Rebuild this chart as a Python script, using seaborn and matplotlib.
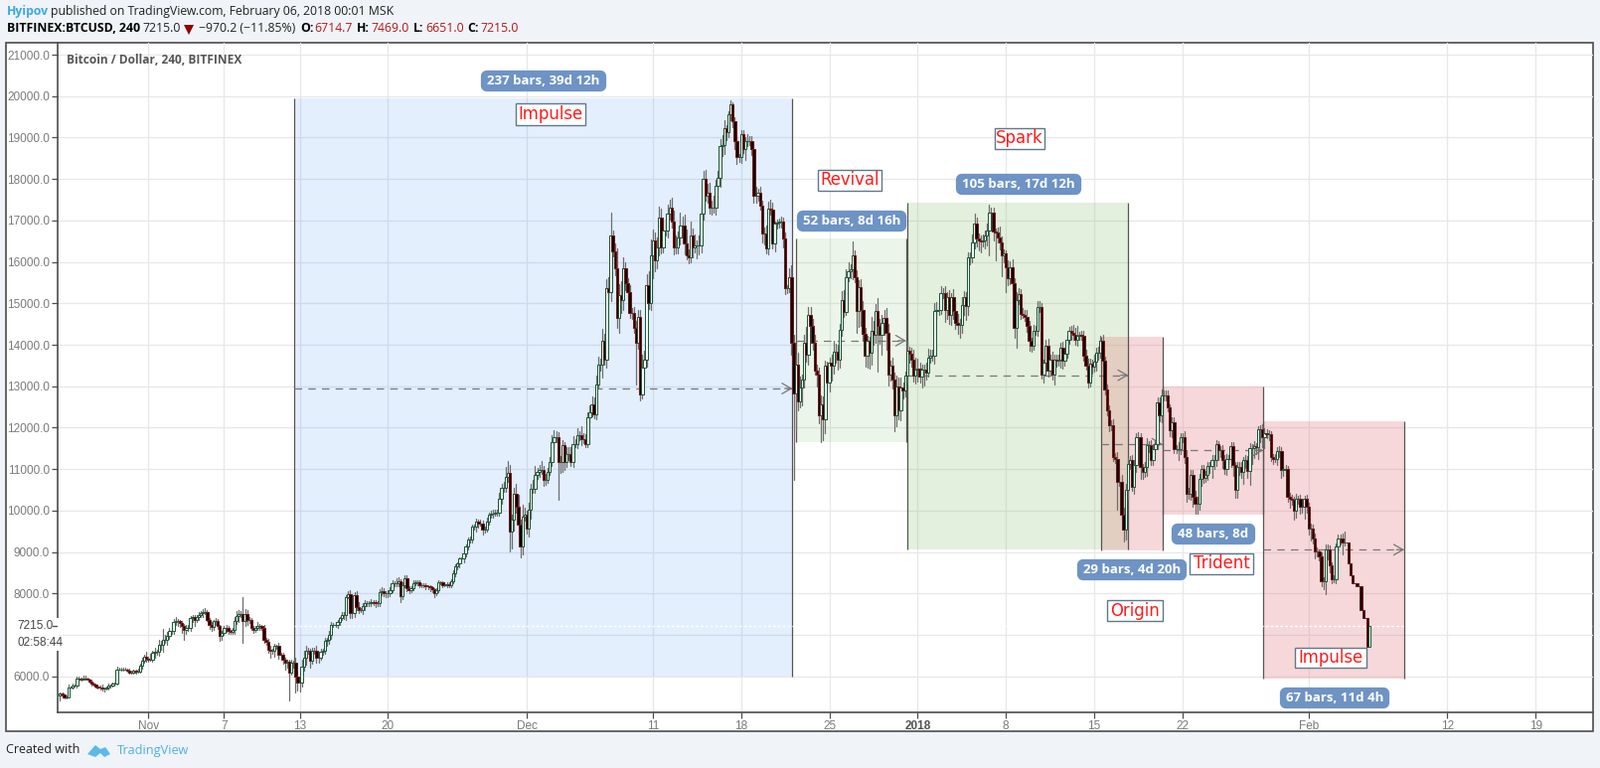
import numpy as np
import pandas as pd
import matplotlib
matplotlib.use("Agg")
import matplotlib.pyplot as plt
from matplotlib.patches import Rectangle, FancyBboxPatch, Polygon
import seaborn as sns

# ---- data: 4h candles, one row per day, starting 25 Oct 2017 ----
first_open = 5540
closes = [
5580,5560,5500,5500,5740,5740, 5780,5780,5950,5950,5930,5950, 5940,5930,5880,5820,5800,5760,
5740,5730,5700,5700,5720,5780, 5780,5820,5830,6170,6170,6170, 6170,6170,6130,6100,6100,6130,
6110,6120,6250,6370,6470,6420, 6410,6410,6570,6590,6590,6760, 6770,6890,6890,6970,7090,7090,
7310,7330,7330,7290,7210,7130, 7170,7170,7400,7420,7360,7420, 7480,7520,7560,7560,7370,7250,
7200,7330,7330,7210,6970,7050, 7170,7170,7100,7080,7110,7330, 7450,7510,7510,7330,7510,7370,
7370,7170,7130,7170,7210,7210, 7170,6890,6830,6650,6610,6610, 6730,6730,6530,6510,6400,6330,
6350,6100,6330,6330,6000,5860, 5860,6240,6450,6610,6610,6370, 6610,6610,6450,6450,6600,6610,
6850,6870,7010,7250,7250,7250, 7300,7400,7480,7480,7920,7980, 7520,7520,7960,7680,7600,7600,
7700,7760,7760,7760,7800,7780, 7760,7760,8040,8060,8000,8000, 8010,8090,8240,8240,8250,8300,
7930,8210,8370,8130,8090,8130, 8250,8270,8270,8210,8210,8200, 8170,8170,8150,8100,8010,8090,
8270,8270,8210,8210,8230,8210, 8290,8490,8650,8720,8850,8850, 8970,9130,9290,9300,9610,9610,
9730,9690,9690,9530,9550,9730, 9890,9930,9930,9950,9950,10290, 10550,10550,10810,10900,9490,9770,
10400,10090,9650,9130,9850,9890, 9570,10010,10530,10530,10850,10930, 10970,10970,10730,10750,10930,11170,
11650,11770,11770,11170,11170,11570, 11170,11370,11370,11170,11610,11610, 11830,11830,11730,11730,11610,12250,
12370,12570,12330,13050,13530,13530, 14100,13650,15360,15280,16630,16250, 15850,14650,15200,15080,15850,15490,
15280,14770,14770,14420,14050,14660, 12800,13450,13650,15440,15000,16160, 16520,16040,16340,17060,16360,16760,
16760,17160,17320,16980,16340,16340, 16600,16880,16880,16440,16160,16120, 16640,16340,16400,16400,16400,17160,
18000,17600,17680,17320,17320,17320, 17840,18020,18800,18820,19220,19120, 19560,19800,19400,18920,18520,18520,
19080,18720,18920,18920,18920,18720, 17600,17600,17680,17360,16680,16680, 16320,17280,17250,16440,16920,16960,
16980,16980,16560,15360,15360,15640, 14050,12820,13510,12630,12980,13170, 14050,13770,14710,14450,14050,13370,
13290,12290,12570,12210,13490,13090, 13570,13490,13830,13830,13640,14370, 15080,14790,15640,15780,15830,16160,
15640,14820,15380,14850,14260,13730, 14090,13810,14330,14250,14820,14450, 14250,14530,14650,14290,13290,13490,
13170,12290,13000,12410,12970,12890, 13250,13860,13780,13650,13250,13410, 13430,13230,13390,13390,13330,13700,
13730,13730,14820,14850,14850,15240, 15240,14850,15160,14720,15160,14810, 14530,14470,14470,14960,15160,14930,
16100,16100,16460,16920,16560,16520, 16500,16520,16640,16760,17180,17190, 16740,16720,16600,16480,16160,16200,
15880,15600,15880,15480,14400,15080, 15220,14750,14720,14680,14450,14090, 13970,14340,14340,14900,14900,13290,
13570,13970,13380,13650,13270,13630, 13620,13630,13940,13610,13790,14130, 14340,14300,14250,14110,14220,14230,
14220,13730,13490,13090,13540,13470, 13600,13810,13820,14090,13620,12930, 12410,12050,12050,11290,11250,10690,
10690,9890,9530,10490,11130,11220, 10570,11100,11770,11770,11050,10930, 11050,11590,11590,11210,11490,11600,
12610,12310,12770,12770,12770,12490, 11930,12130,11490,11490,11490,11780, 11780,11290,10410,10410,10850,10330,
10170,10170,10770,11010,10800,10850, 11070,11070,11210,11210,11610,11450, 11450,11210,11010,11250,11250,11550,
11100,10490,11050,11050,10930,11210, 11210,10950,11510,11510,11550,11530, 11970,11970,11770,11860,11850,11850,
11290,11250,11250,11430,11430,10970, 11010,11010,10330,10290,10250,9990, 10290,10290,10090,10100,10290,10090,
9570,9570,9330,9010,9010,8890, 8290,8290,9070,9070,8690,8350, 8350,9130,9330,9330,9230,9230,
9230,8730,8450,8250,8250,8170, 8170,7610,7410,7400,6714.7,7215.0,
]
# four days per line
upper_wicks = [
30,20,10,40,60,20, 50,30,40,50,30,70, 60,40,20,30,20,30, 20,30,60,30,40,50,
30,40,30,60,50,40, 40,30,20,50,30,20, 40,60,50,70,60,130, 60,130,40,100,60,110,
90,260,100,100,80,100, 70,90,60,30,40,60, 60,80,50,70,60,60, 70,50,60,90,40,30,
50,40,80,60,30,50, 40,70,40,30,60,110, 130,90,60,410,120,80, 60,30,40,50,90,60,
40,60,50,70,90,50, 60,40,90,50,70,60, 60,50,70,50,120,70, 70,150,170,130,70,60,
70,90,120,60,60,50, 80,60,90,70,40,60, 60,40,70,80,50,70, 90,60,60,90,100,50,
60,70,60,50,70,40, 60,50,70,100,70,50, 60,70,90,60,110,80, 50,70,60,60,40,50,
70,60,50,40,40,30, 40,30,40,30,30,30, 50,30,30,60,50,30, 60,70,50,40,30,30,
80,50,60,70,60,50, 70,60,80,60,60,90, 50,70,90,70,60,150, 100,150,250,300,200,120,
160,250,300,130,300,170, 100,180,120,200,220,100, 120,220,100,130,90,110, 160,170,150,130,140,120,
90,170,150,160,180,110, 150,90,200,130,120,110, 160,180,150,210,180,130, 280,170,220,260,560,130,
190,480,260,340,260,140, 120,160,110,130,150,170, 190,300,200,260,340,390, 260,180,240,270,230,230,
280,210,180,240,260,300, 140,300,220,260,330,150, 340,170,260,110,240,220, 190,220,200,240,150,270,
140,180,170,230,200,80, 70,100,60,90,110,90, 90,110,80,170,110,120, 150,220,90,130,110,150,
200,170,220,170,60,70, 60,120,80,140,90,200, 270,190,240,310,260,100, 180,380,190,200,170,180,
160,170,200,180,130,100, 130,190,260,190,170,130, 210,240,180,200,120,340, 120,170,180,200,210,150,
130,110,350,240,170,310, 170,200,180,240,220,130, 200,170,250,200,240,110, 110,240,90,160,240,270,
240,130,140,120,180,200, 160,150,180,190,180,170, 130,170,110,170,90,180, 200,220,160,180,140,110,
120,140,190,250,150,130, 110,150,120,160,190,130, 120,70,110,260,140,110, 80,150,130,190,120,180,
150,120,140,130,150,120, 90,130,120,150,150,110, 60,150,180,120,190,130, 140,120,110,130,110,100,
90,120,180,160,230,90, 110,120,160,170,130,100, 150,110,130,120,140,90, 100,130,130,160,90,150,
150,160,170,160,130,100, 120,130,100,110,90,80, 130,160,90,110,120,100, 110,120,140,130,120,130,
70,110,130,100,170,90, 90,140,180,150,120,130, 150,170,120,90,80,110, 100,110,130,120,90,70,
110,120,140,110,100,90, 100,80,130,120,110,90, 120,100,110,90,130,80, 70,100,120,130,110,90,
60,80,110,100,130,90, 70,90,60,90,100,90, 110,70,80,90,70,90, 100,120,90,110,100,60,
100,90,120,110,80,60, 90,70,90,80,120,254,
]
lower_wicks = [
130,60,40,30,20,20, 30,20,40,30,30,20, 30,20,30,40,20,30, 30,40,50,60,30,30,
40,30,40,20,20,30, 30,20,20,30,40,30, 40,30,30,70,30,70, 60,40,60,110,60,100,
130,170,90,140,70,60, 70,60,110,90,160,240, 110,80,70,80,150,60, 70,50,80,60,40,110,
100,70,90,60,120,90, 60,90,70,50,60,80, 60,130,70,520,110,130, 80,60,90,70,60,80,
50,80,70,90,160,60, 130,70,110,60,90,180, 110,680,60,130,400,200, 220,110,100,180,70,170,
60,70,130,110,60,90, 60,120,90,100,70,60, 80,70,50,90,110,40, 110,120,80,90,80,60,
100,90,70,70,60,70, 80,70,60,90,70,100, 90,70,60,70,60,70, 130,60,60,70,90,60,
60,50,60,70,50,60, 70,60,90,60,90,60, 60,50,60,40,50,50, 60,50,70,60,80,60,
90,70,60,50,70,60, 110,90,60,100,70,60, 70,60,90,60,70,80, 120,90,100,120,480,400,
260,130,240,260,180,90, 130,190,210,110,100,80, 110,90,130,120,70,80, 100,130,110,920,260,250,
190,110,140,100,120,70, 100,120,150,110,80,90, 120,90,100,120,70,150, 330,130,200,170,230,120,
180,250,360,310,230,160, 170,120,150,130,1000,140, 130,100,360,180,140,150, 560,260,190,180,160,130,
120,170,140,160,150,130, 130,180,210,260,100,150, 120,240,110,320,210,170, 150,120,170,160,190,130,
170,130,210,250,220,180, 100,130,150,190,160,100, 120,90,260,120,110,150, 170,180,120,110,220,260,
120,140,100,120,180,110, 130,160,200,140,110,90, 300,2080,880,200,130,450, 200,170,260,210,180,100,
300,180,640,500,340,180, 220,350,190,270,240,180, 160,130,80,100,170,240, 120,520,380,390,160,250,
270,380,300,240,200,1100, 220,500,300,400,280,150, 220,380,260,200,230,190, 130,160,200,170,140,190,
300,150,260,370,160,100, 130,110,180,210,140,100, 110,300,230,220,250,180, 140,200,300,170,240,330,
220,160,100,130,180,240, 280,120,190,240,590,200, 210,680,120,180,500,160, 610,170,130,160,220,480,
90,130,70,100,140,230, 130,90,110,130,100,110, 200,130,150,100,120,240, 140,130,170,180,120,90,
110,170,130,120,130,100, 110,120,80,130,90,160, 110,220,180,130,100,120, 100,130,120,90,110,680,
90,100,280,240,200,130, 100,160,170,340,280,170, 120,210,170,110,120,130, 120,150,180,110,100,90,
130,170,110,100,260,130, 120,150,200,130,160,240, 240,250,150,180,120,100, 100,170,290,210,130,240,
150,180,130,160,110,190, 260,180,170,200,140,280, 190,170,330,380,250,160, 280,320,240,270,110,140,
100,130,90,160,150,170, 130,100,110,210,120,200, 150,120,170,130,300,140, 160,300,120,160,120,90,
120,180,300,250,190,100, 90,100,140,160,290,64,
]
start_day = -7
bars_per_day = 6

y_ticks = list(range(6000, 22000, 1000))
y_hidden = [7000]
x_ticks = [0, 6, 12, 19, 30, 40, 47, 54, 61, 68, 75, 82, 92, 103, 110]
x_labels = ["Nov", "7", "13", "20", "Dec", "11", "18", "25", "2018", "8", "15", "22", "Feb", "12", "19"]

box_names = ["Impulse", "Revival", "Spark", "Origin", "Trident", "Impulse"]
box_left = [11.59, 51.38, 60.2, 75.58, 80.4, 88.4]
box_right = [51.06, 60.08, 77.7, 80.4, 88.4, 99.57]
box_top = [19940, 16565, 17440, 14185, 13000, 12160]
box_bottom = [5990, 11660, 9070, 9040, 9895, 5940]
box_mid = [12945, 14100, 13265, 11610, 11450, 9055]
last_price = 7215.0

BOX_STYLE = [((0.32, 0.61, 0.96), .16), ((0.45, 0.72, 0.35), .13), ((0.45, 0.72, 0.35), .20),
             ((0.90, 0.53, 0.55), .32), ((0.90, 0.53, 0.55), .32), ((0.90, 0.53, 0.55), .32)]

W, H = 1610, 773
BG = "#f0f3f7"
FRAME = "#4d4d4d"
sns.set_theme(style="white", rc={"font.family": "Liberation Sans", "axes.unicode_minus": False})

closes = np.array(closes, dtype=float)
opens = np.r_[first_open, closes[:-1]]
n = len(closes)
days = start_day + np.arange(n) / bars_per_day
upper = np.zeros(n); upper[:min(n, len(upper_wicks))] = upper_wicks[:n]
lower = np.zeros(n); lower[:min(n, len(lower_wicks))] = lower_wicks[:n]
highs = np.maximum(opens, closes) + upper
lows = np.minimum(opens, closes) - lower

fig = plt.figure(figsize=(W / 100, H / 100), dpi=100, facecolor=BG)

def px(x, y):
    return x / W, 1 - y / H

# outer frame
fig.add_artist(Rectangle(px(6, 736), 1597 / W, 693 / H, transform=fig.transFigure,
                         facecolor="white", edgecolor=FRAME, lw=1.2, zorder=0))

ax = fig.add_axes([57.5 / W, 1 - 717 / H, (1603 - 57.5) / W, (717 - 43) / H], facecolor="none")
ax.set_xlim(-7.23, 114.55)
ax.set_ylim(5130, 21289)

ax.set_yticks(y_ticks)
ax.set_yticklabels(["" if v in y_hidden else f"{v:.1f}" for v in y_ticks])
ax.set_xticks(x_ticks)
ax.set_xticklabels(x_labels)
ax.tick_params(axis="both", length=4, width=0.9, color=FRAME, labelsize=8.5, labelcolor="#7a7a7a", bottom=True, left=True)
ax.tick_params(axis="x", pad=1.5)
ax.tick_params(axis="y", pad=1.4)
ax.grid(True, color="#e8e8e8", lw=0.95, zorder=0)
ax.set_axisbelow(True)
for lab in ax.get_xticklabels():
    if lab.get_text() == "2018":
        lab.set_fontweight("bold")
        lab.set_color("#555555")
for s in ["top", "right"]:
    ax.spines[s].set_visible(False)
for s in ["left", "bottom"]:
    ax.spines[s].set_color(FRAME)
    ax.spines[s].set_linewidth(1.2)

# measured boxes
for i in range(len(box_names)):
    col, alpha = BOX_STYLE[i]
    ax.add_patch(Rectangle((box_left[i], box_bottom[i]), box_right[i] - box_left[i], box_top[i] - box_bottom[i],
                           facecolor=col, edgecolor="none", alpha=alpha, zorder=1))
    ax.vlines([box_left[i], box_right[i]], box_bottom[i], box_top[i], color="#555555", lw=0.9, zorder=2)
    ax.hlines(box_mid[i], box_left[i], box_right[i], color="#777777", lw=0.9, linestyles=[(0, (6, 5))], zorder=2)
    ax.annotate("", xy=(box_right[i], box_mid[i]), xytext=(box_right[i] - 0.6, box_mid[i]),
                arrowprops=dict(arrowstyle="->,head_length=0.55,head_width=0.32", color="#777777", lw=0.9,
                                shrinkA=0, shrinkB=0, mutation_scale=12), zorder=2)
ax.axhline(last_price, color="white", lw=1, ls=(0, (2, 1.5)), zorder=3)

# wicks through seaborn
wick_df = pd.DataFrame({
    "day": np.repeat(days, 2),
    "price": np.column_stack([lows, highs]).ravel(),
    "bar": np.repeat(np.arange(n), 2),
})
sns.lineplot(data=wick_df, x="day", y="price", units="bar", estimator=None, sort=False,
             color="#6e6e6e", lw=0.9, ax=ax, legend=False, zorder=4)
ax.set_xlabel("")
ax.set_ylabel("")
ax.set_xlim(-7.23, 114.55)
ax.set_ylim(5130, 21289)

# candle bodies, drawn bar by bar so later ones sit on top
up = closes >= opens
ax.bar(days, np.abs(closes - opens), bottom=np.minimum(opens, closes), width=0.19,
       color=["white" if u else "black" for u in up],
       edgecolor=["#1d5a3a" if u else "#7a1414" for u in up], lw=0.75, zorder=5)

# --- page text ---
HF = "Open Sans"
def T(x, y, s, size=9, color="black", weight="normal", ha="left", family=HF, z=10):
    return fig.text(x / W, 1 - y / H, s, fontsize=size, color=color, fontweight=weight, ha=ha, va="center",
                    family=family, zorder=z)

T(7, 12, "Hyipov", 8.8, "#3aa9e0", "bold")
T(51, 12, "published on TradingView.com, February 06, 2018 00:01 MSK", 8.8, "#222222")
T(7, 29, "BITFINEX:BTCUSD, 240", 8.8, "black", "bold")
T(143, 29, "7215.0", 8.8, "#222222")
fig.add_artist(Polygon([px(185, 25), px(195, 25), px(190, 35)], closed=True, facecolor="#8b0000", edgecolor="none",
                       transform=fig.transFigure, zorder=10))
T(200, 29, "\u2212970.2 (\u221211.85%)", 8.8, "#222222")
red = "#b01818"
for xl, l, xv, v in [(302, "O:", 316, "6714.7"), (359, "H:", 373, "7469.0"), (416, "L:", 428, "6651.0"), (470, "C:", 483, "7215.0")]:
    T(xl, 29, l, 8.8, "black", "bold")
    T(xv, 29, v, 8.8, red)
T(67, 61, "Bitcoin / Dollar, 240, BITFINEX", 8.6, "#555555", "bold")

# last price tag on the axis
fig.add_artist(Rectangle(px(17, 655), 42 / W, 33 / H, transform=fig.transFigure, facecolor="white", edgecolor="none", zorder=6))
T(17, 630, "7215.0", 8.5, "#444444", family="Liberation Sans")
T(17, 647, "02:58:44", 8.5, "#444444", family="Liberation Sans")
fig.add_artist(plt.Line2D([53 / W, 57 / W], [1 - 630 / H, 1 - 630 / H], color=FRAME, lw=1, zorder=7))

# blue measure tags
def tag(x0, x1, y0, y1, s):
    fig.add_artist(FancyBboxPatch(px(x0 + 3, y1 - 3), (x1 - x0 - 6) / W, (y1 - y0 - 6) / H, transform=fig.transFigure,
                                  boxstyle="round,pad=0,rounding_size=0.002", mutation_aspect=2.08,
                                  facecolor="#6e93c5", edgecolor="#6e93c5", lw=4.5, zorder=8))
    T((x0 + x1) / 2, (y0 + y1) / 2, s, 9.5, "white", "bold", ha="center")

tag(484, 610, 71, 92, "237 bars, 39d 12h")
tag(802, 912, 212, 233, "52 bars, 8d 16h")
tag(962, 1088, 175, 196, "105 bars, 17d 12h")
tag(1084, 1194, 563, 584, "29 bars, 4d 20h")
tag(1179, 1263, 527, 548, "48 bars, 8d")
tag(1288, 1398, 692, 713, "67 bars, 11d 4h")

# red wave labels
def wave(x0, x1, y0, y1, s):
    fig.add_artist(Rectangle(px(x0, y1), (x1 - x0) / W, (y1 - y0) / H, transform=fig.transFigure,
                             facecolor="white", edgecolor="#607888", lw=1, zorder=8))
    T((x0 + x1) / 2, (y0 + y1) / 2, s, 11.9, "#ff1a1a", ha="center", family="DejaVu Sans")

wave(519, 589, 104, 126, "Impulse")
wave(823, 887, 171, 192, "Revival")
wave(1001, 1051, 129, 150, "Spark")
wave(1114, 1170, 604, 625, "Origin")
wave(1197, 1261, 557, 578, "Trident")
wave(1303, 1375, 652, 672, "Impulse")

# footer
T(6, 755, "Created with", 9.0, "#222222")
logo = "#5db9ea"
fig.add_artist(Polygon([px(88, 759), px(96, 750), px(101, 754), px(106, 752), px(111, 759), px(105, 762), px(101, 758), px(96, 762)],
                       closed=True, facecolor=logo, edgecolor="none", transform=fig.transFigure, zorder=10))
T(118, 755, "TradingView", 9.2, "#4fb0e6")

fig.savefig("out.png", dpi=100, facecolor=BG)
